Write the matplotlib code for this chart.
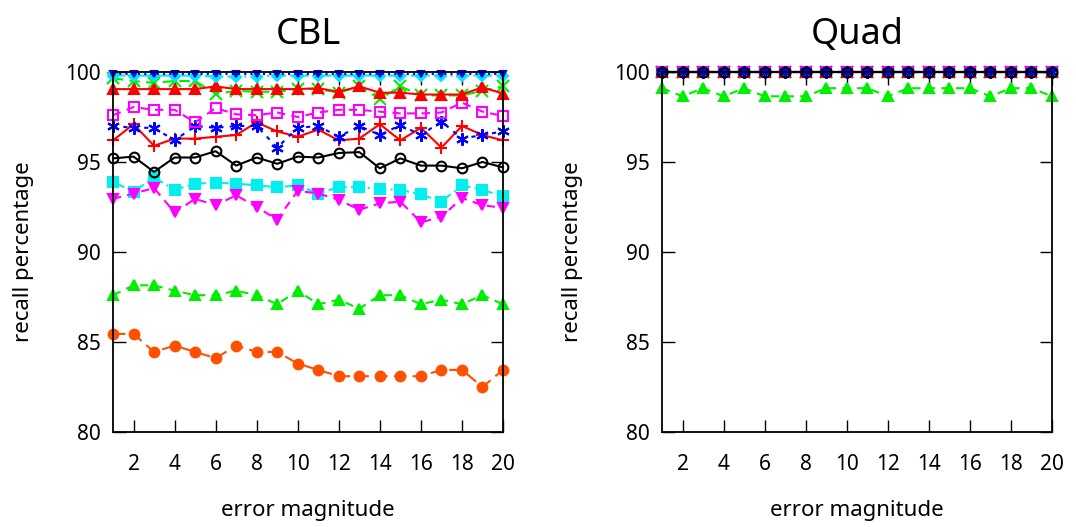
import matplotlib
matplotlib.use("Agg")
import matplotlib.pyplot as plt
import numpy as np

plt.rcParams['font.family'] = ['Noto Sans', 'DejaVu Sans']

x = np.arange(1, 21)
xticks = np.arange(2, 21, 2)
yticks = [80, 85, 90, 95, 100]

# CBL recall (%) per error magnitude
cbl_plus = [96.2, 97.1, 95.9, 96.3, 96.3, 96.4, 96.5, 97.2, 96.7, 96.4,
            96.8, 96.2, 96.3, 97.1, 96.2, 96.9, 95.8, 97.0, 96.5, 96.2]
cbl_cross = [99.65, 99.5, 99.4, 99.5, 99.5, 98.8, 98.95, 98.9, 98.9, 99.05,
             99.05, 98.85, 99.2, 98.5, 99.2, 98.7, 98.7, 98.7, 98.95, 99.2]
cbl_star = [97.0, 96.9, 96.9, 96.2, 97.0, 96.9, 97.0, 97.0, 95.8, 96.9,
            97.0, 96.4, 97.0, 96.5, 97.05, 96.5, 97.25, 96.3, 96.5, 96.7]
cbl_osq = [97.6, 98.05, 97.9, 97.9, 97.2, 98.0, 97.65, 97.6, 97.75, 97.5,
           97.75, 97.9, 97.9, 97.8, 97.7, 97.7, 97.75, 98.3, 97.8, 97.55]
cbl_fsq = [93.9, 93.35, 94.15, 93.45, 93.8, 93.85, 93.8, 93.7, 93.6, 93.7,
           93.25, 93.6, 93.6, 93.5, 93.45, 93.2, 92.8, 93.7, 93.45, 93.1]
cbl_ocirc = [95.2, 95.3, 94.45, 95.25, 95.25, 95.6, 94.8, 95.25, 94.9, 95.3,
             95.25, 95.5, 95.55, 94.65, 95.2, 94.8, 94.8, 94.65, 95.0, 94.7]
cbl_tri = [99.05, 99.05, 99.05, 99.05, 99.05, 99.2, 99.05, 99.05, 99.05, 99.05,
           99.1, 98.9, 99.2, 98.85, 98.85, 98.75, 98.75, 98.75, 99.15, 98.8]
cbl_diam = [99.8] * 5 + [99.75] * 3 + [99.8] * 12
cbl_dtri_blue = [99.9] * 20
cbl_dtri = [92.95, 93.25, 93.55, 92.2, 92.95, 92.6, 93.15, 92.5, 91.8, 93.4,
            93.25, 92.9, 92.35, 92.7, 92.8, 91.65, 91.95, 93.0, 92.6, 92.45]
cbl_gtri = [87.6, 88.15, 88.15, 87.85, 87.6, 87.6, 87.85, 87.6, 87.1, 87.85,
            87.1, 87.35, 86.85, 87.6, 87.6, 87.1, 87.35, 87.1, 87.6, 87.1]
cbl_circ = [85.45, 85.45, 84.45, 84.8, 84.45, 84.1, 84.8, 84.45, 84.45, 83.8,
            83.45, 83.1, 83.1, 83.1, 83.1, 83.1, 83.45, 83.45, 82.5, 83.45]

# Quad recall (%) per error magnitude
quad_full = [100.0] * 20
quad_gtri = [99.1, 98.65, 99.1, 98.65, 99.1, 98.65, 98.65, 98.65, 99.1, 99.1,
             99.1, 98.65, 99.1, 99.1, 99.1, 99.1, 98.65, 99.1, 99.1, 98.65]

# (key, color, linestyle, marker, filled)
styles = [
    ("plus", "#ff0000", "-", "+", True),
    ("cross", "#00ee00", (0, (5, 3)), "x", True),
    ("star", "#0000ff", (0, (2, 3)), (6, 2, 0), True),
    ("osq", "#ff00ff", (0, (4, 3)), "s", False),
    ("fsq", "#00f0f0", (0, (6, 2, 1, 2)), "s", True),
    ("ocirc", "#000000", "-", "o", False),
    ("tri", "#ff0000", "-", "^", True),
    ("diam", "#00e8ff", (0, (6, 2, 1, 2)), "D", True),
    ("dtri_blue", "#0000ff", (0, (1, 2)), "v", True),
    ("dtri", "#ff00ff", (0, (4, 3)), "v", True),
    ("gtri", "#00ee00", (0, (4, 3)), "^", True),
    ("circ", "#ff5000", (0, (6, 3)), "o", True),
]

cbl = {"plus": cbl_plus, "cross": cbl_cross, "star": cbl_star, "osq": cbl_osq,
       "fsq": cbl_fsq, "ocirc": cbl_ocirc, "tri": cbl_tri, "diam": cbl_diam,
       "dtri_blue": cbl_dtri_blue, "dtri": cbl_dtri, "gtri": cbl_gtri, "circ": cbl_circ}
quad = {k: quad_full for k in cbl}
quad["gtri"] = quad_gtri

msize = {"plus": 9, "cross": 9, "star": 9, "osq": 7, "fsq": 7, "ocirc": 7,
         "tri": 7, "diam": 5, "dtri_blue": 4, "dtri": 7, "gtri": 7, "circ": 7}

# draw order for the quad panel: black circles over the blue marks
quad_order = ["circ", "plus", "cross", "osq", "fsq", "tri", "diam", "dtri",
              "gtri", "dtri_blue", "star", "ocirc"]


def draw_panel(ax, data, title, order, sq_color=None):
    st = {s[0]: s for s in styles}
    for z, key in enumerate(order):
        _, c, ls, m, filled = st[key]
        if sq_color and key == "fsq":
            c = sq_color
        ax.plot(x, data[key], color=c, linestyle=ls, linewidth=1.5,
                marker=m, markersize=msize[key],
                markerfacecolor=c if filled else "none",
                markeredgecolor=c, markeredgewidth=1.5, clip_on=False, zorder=3 + z)
    ax.set_xlim(1, 20)
    ax.set_ylim(80, 100)
    ax.set_xticks(xticks)
    ax.set_yticks(yticks)
    ax.tick_params(direction="in", length=9, width=1, top=True, right=True,
                   labelsize=15)
    ax.tick_params(axis="x", pad=16)
    ax.tick_params(axis="y", pad=9)
    for sp in ax.spines.values():
        sp.set_linewidth(1.3)
        sp.set_zorder(20)
    ax.set_title(title, fontsize=26, pad=20)
    ax.set_xlabel("error magnitude", fontsize=16, labelpad=18)
    ax.set_ylabel("recall percentage", fontsize=16, labelpad=22)


fig = plt.figure(figsize=(10.76, 5.27), dpi=100)
ax1 = fig.add_axes([113 / 1076, 95 / 527, 390 / 1076, 360 / 527])
ax2 = fig.add_axes([662 / 1076, 95 / 527, 390 / 1076, 360 / 527])

draw_panel(ax1, cbl, "CBL", [s[0] for s in styles])
draw_panel(ax2, quad, "Quad", quad_order, sq_color="#3030e0")

fig.savefig("out.png", dpi=100)
